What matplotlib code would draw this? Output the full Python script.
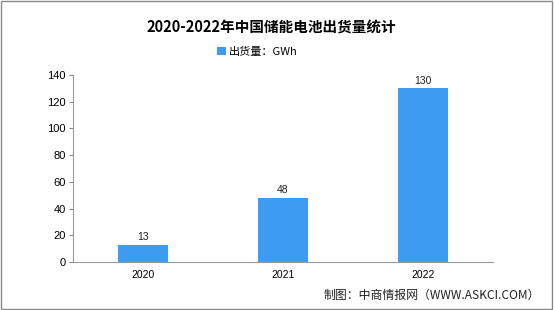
import matplotlib
matplotlib.use("Agg")
import matplotlib.pyplot as plt
from matplotlib.patches import Rectangle

plt.rcParams['font.family'] = ['Noto Sans CJK SC', 'DejaVu Sans']

years = ["2020", "2021", "2022"]
shipments = [13, 48, 130]
y_ticks = [0, 20, 40, 60, 80, 100, 120, 140]

bar_color = "#3d9cf0"

fig = plt.figure(figsize=(5.54, 3.10), dpi=100, facecolor="white")
ax = fig.add_axes([0.1318, 0.1548, 0.7582, 0.6032])

x = range(len(years))
bars = ax.bar(x, shipments, width=0.36, color=bar_color, label="出货量：GWh", zorder=2)
for xi, v in zip(x, shipments):
    ax.text(xi, v + 2, str(v), ha="center", va="bottom", fontsize=7.5,
            family=["Liberation Sans"], color="#222222")

ax.set_xlim(-0.5, len(years) - 0.5)
ax.set_ylim(0, 140)
ax.set_yticks(y_ticks)
ax.set_yticklabels([str(t) for t in y_ticks], fontsize=8, family=["Liberation Sans"])
ax.set_xticks(list(x))
ax.set_xticklabels(years, fontsize=7.5, family=["Liberation Sans"])
ax.tick_params(axis="y", length=3, color="#888888", pad=2)
ax.tick_params(axis="x", length=0, pad=6)

for s in ["top", "right"]:
    ax.spines[s].set_visible(False)
ax.spines["left"].set_color("#999999")
ax.spines["bottom"].set_color("#999999")

fig.text(0.490, 0.912, "2020-2022年中国储能电池出货量统计", ha="center", va="center",
         fontsize=10.5, fontweight="bold")
fig.legend(handles=[bars], loc="center", bbox_to_anchor=(0.465, 0.833), frameon=False,
           fontsize=8, handlelength=0.8, handleheight=0.8, handletextpad=0.3)
fig.text(0.975, 0.048, "制图：中商情报网（WWW.ASKCI.COM）", ha="right", va="center",
         fontsize=8.6, color="#222222")

fig.patches.append(Rectangle((0.002, 0.003), 0.995, 0.994, transform=fig.transFigure,
                             fill=False, edgecolor="#888888", linewidth=1.0))

fig.savefig("out.png", dpi=100, facecolor="white")
